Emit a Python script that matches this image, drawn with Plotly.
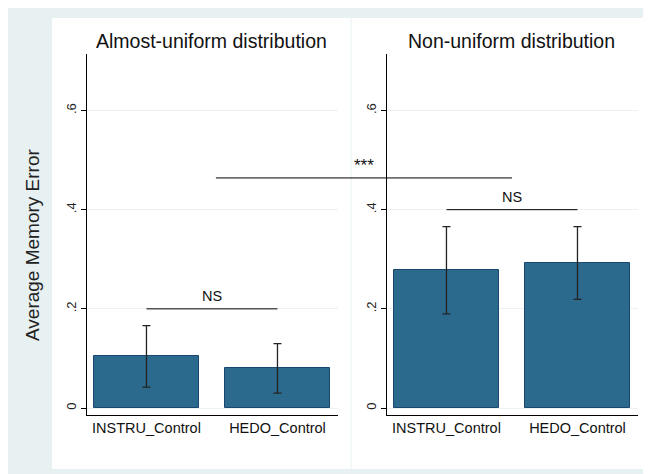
import plotly.graph_objects as go

# ---------------- data ----------------
panel_titles = ["Almost-uniform distribution", "Non-uniform distribution"]
categories = ["INSTRU_Control", "HEDO_Control"]
means_uniform = [0.105, 0.080]
lo_uniform = [0.042, 0.030]
hi_uniform = [0.166, 0.130]
means_nonuniform = [0.279, 0.292]
lo_nonuniform = [0.190, 0.219]
hi_nonuniform = [0.366, 0.366]
y_tickvals = [0, 0.2, 0.4, 0.6]
y_ticktext = ["0", ".2", ".4", ".6"]
y_title = "Average Memory Error"
# significance brackets: (level, label)
ns_levels = [0.2, 0.4]
ns_labels = ["NS", "NS"]
star_level = 0.464
star_label = "***"

# ---------------- layout geometry (page has an 8px body margin) ----------------
OFF = 8
W, H = 643, 466
def px(x):
    return (x - OFF) / W
def py(y):
    return 1 - (y - OFF) / H

x_range = [-0.454, 1.462]
y_range = [-0.0141, 0.714]
dom1 = [px(87), px(338)]
dom2 = [px(387), px(638)]
ydom = [py(415), py(54)]

BAR = "#2C6A8D"
BAR_LINE = "#1A476F"
GRID = "#EAF2F3"
BG = "#E8F1F2"
FONT = "Liberation Sans, Arial, Helvetica, sans-serif"

fig = go.Figure()

for i, (m, lo, hi) in enumerate([(means_uniform, lo_uniform, hi_uniform),
                                  (means_nonuniform, lo_nonuniform, hi_nonuniform)]):
    fig.add_trace(go.Bar(
        x=categories, y=m,
        xaxis="x" if i == 0 else "x2", yaxis="y" if i == 0 else "y2",
        width=0.80,
        marker=dict(color=BAR, line=dict(color=BAR_LINE, width=1)),
        error_y=dict(type="data", symmetric=False,
                     array=[h - v for h, v in zip(hi, m)],
                     arrayminus=[v - l for v, l in zip(m, lo)],
                     color="#222222", thickness=1.3, width=4),
        showlegend=False, hoverinfo="skip",
    ))

axis_common_y = dict(range=y_range, domain=ydom, tickvals=y_tickvals, ticktext=y_ticktext,
                     tickangle=-90, ticks="outside", ticklen=5, tickcolor="#000",
                     showline=True, linecolor="#000", linewidth=1,
                     showgrid=True, gridcolor=GRID, gridwidth=1, zeroline=False,
                     tickfont=dict(family=FONT, size=13, color="#222"))
axis_common_x = dict(type="category", range=x_range, ticks="", showline=True,
                     linecolor="#000", linewidth=1, showgrid=False, zeroline=False,
                     tickfont=dict(family=FONT, size=14.5, color="#111"))

fig.update_layout(
    width=W, height=H,
    margin=dict(l=0, r=0, t=0, b=0),
    paper_bgcolor=BG, plot_bgcolor="rgba(0,0,0,0)",
    bargap=0,
    xaxis=dict(domain=dom1, anchor="y", **axis_common_x),
    xaxis2=dict(domain=dom2, anchor="y2", **axis_common_x),
    yaxis=dict(anchor="x", **axis_common_y),
    yaxis2=dict(anchor="x2", **axis_common_y),
)

# background regions
shapes = [
    dict(type="rect", xref="paper", yref="paper", x0=px(52), x1=px(650), y0=py(469), y1=py(18),
         fillcolor="white", line=dict(width=0), layer="below"),
    dict(type="line", xref="paper", yref="paper", x0=px(351), x1=px(351), y0=py(469), y1=py(18),
         line=dict(color=BG, width=1), layer="below"),
]

# NS brackets within each panel (from bar centre to bar centre)
for i, (lev, lab) in enumerate(zip(ns_levels, ns_labels)):
    xr = "x" if i == 0 else "x2"
    yr = "y" if i == 0 else "y2"
    shapes.append(dict(type="line", xref=xr, yref=yr, x0=0, x1=1, y0=lev, y1=lev,
                       line=dict(color="#000", width=1)))
    fig.add_annotation(x=0.5, y=lev, xref=xr, yref=yr, text=lab, showarrow=False,
                       yanchor="middle", yshift=13,
                       font=dict(family=FONT, size=14.5, color="#111"))

# *** bracket across panels: from middle of panel 1 to middle of panel 2
def cat_to_paper(c, dom):
    return dom[0] + (c - x_range[0]) / (x_range[1] - x_range[0]) * (dom[1] - dom[0])

sx0 = cat_to_paper(0.53, dom1)
sx1 = cat_to_paper(0.5, dom2)
shapes.append(dict(type="line", xref="paper", yref="y", x0=sx0, x1=sx1,
                   y0=star_level, y1=star_level, line=dict(color="#000", width=1)))
fig.add_annotation(x=(sx0 + sx1) / 2, y=star_level, xref="paper", yref="y", text=star_label,
                   showarrow=False, yanchor="middle", yshift=12,
                   font=dict(family=FONT, size=17, color="#111"))

fig.update_layout(shapes=shapes)

# panel titles
for dom, t in zip([dom1, dom2], panel_titles):
    fig.add_annotation(x=cat_to_paper(0.5, dom), y=py(41),
                       xref="paper", yref="paper", text=t, showarrow=False,
                       xanchor="center", yanchor="middle",
                       font=dict(family=FONT, size=19.5, color="#111"))

# y-axis title
fig.add_annotation(x=px(33), y=py(245), xref="paper", yref="paper", text=y_title,
                   showarrow=False, textangle=-90, xanchor="center", yanchor="middle",
                   font=dict(family=FONT, size=19, color="#222"))

fig.write_html("out.html")
